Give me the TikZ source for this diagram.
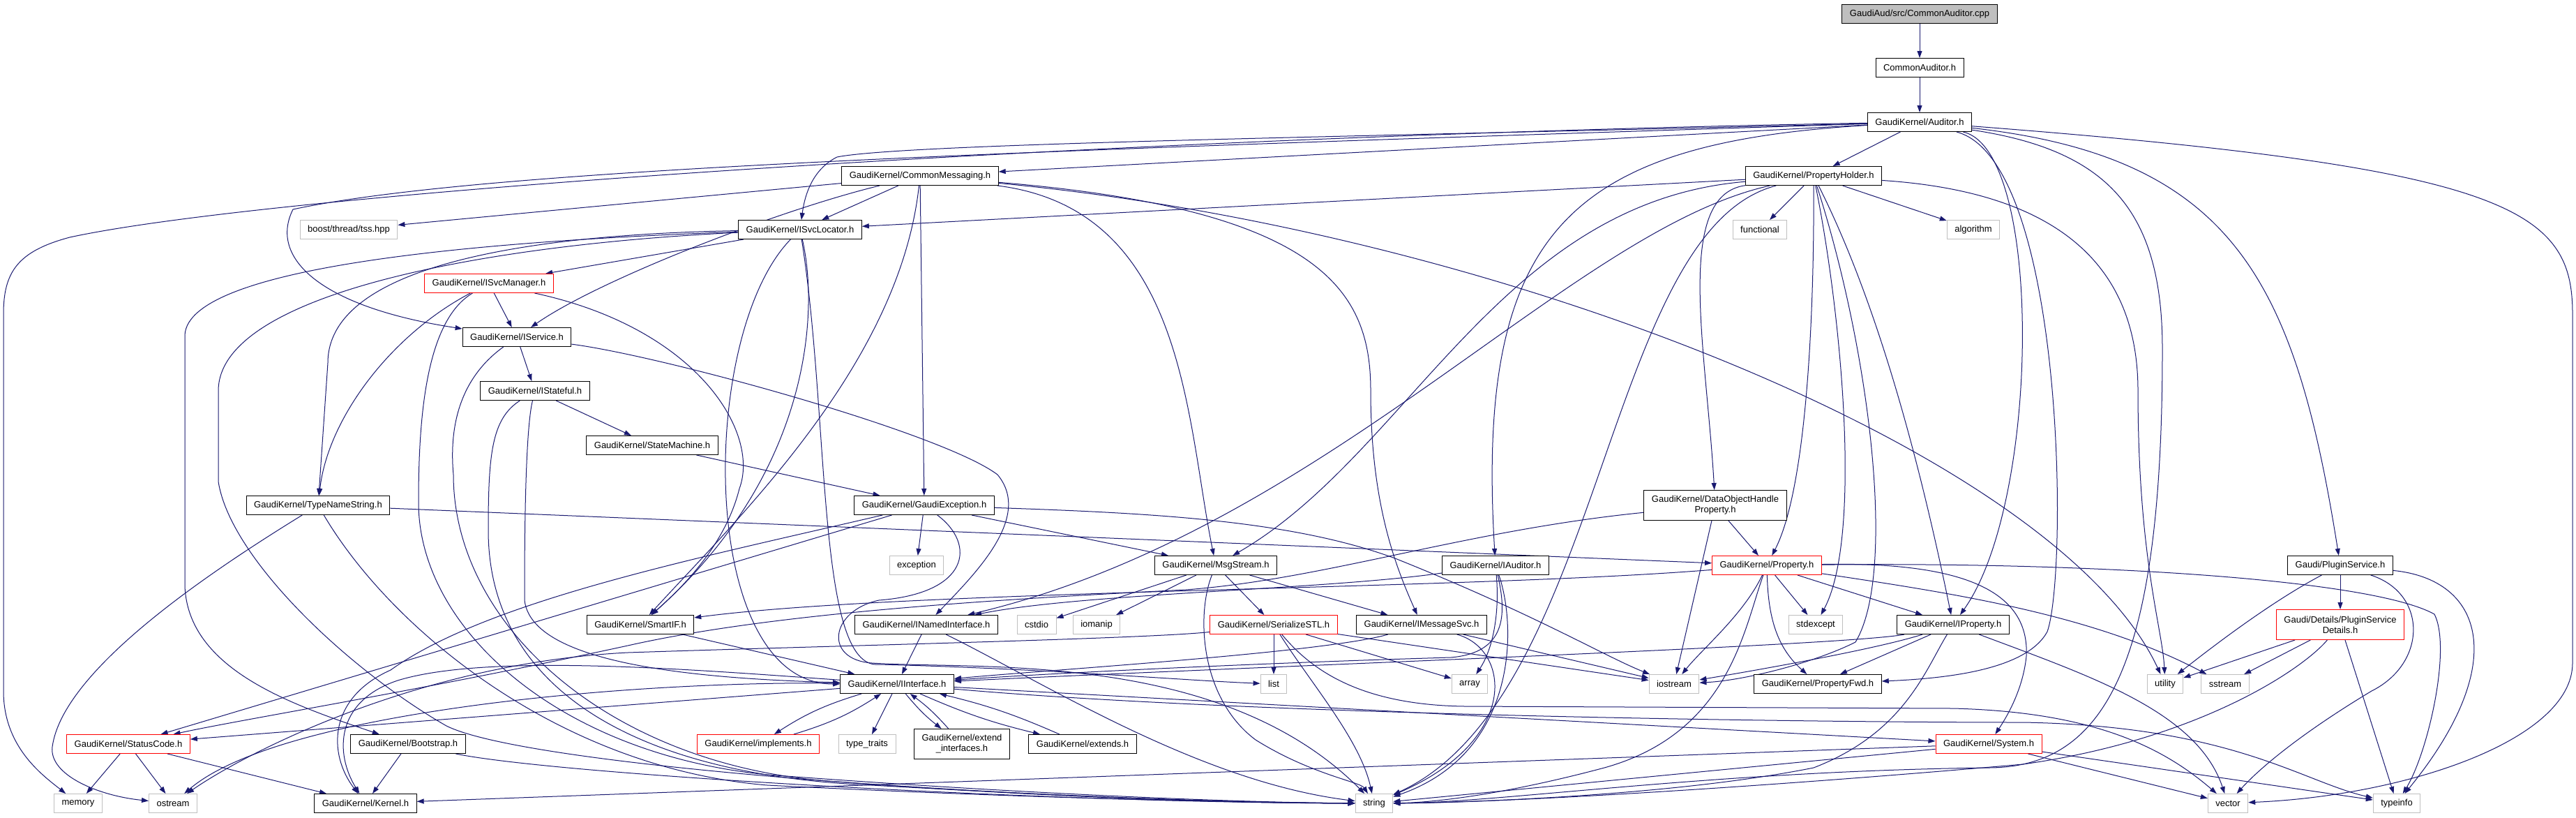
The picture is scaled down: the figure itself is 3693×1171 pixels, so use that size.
\documentclass[tikz,border=0pt]{standalone}
\usepackage{fontspec}
\newfontfamily\hfont{Liberation Sans}
\usetikzlibrary{arrows.meta}
\definecolor{DoxEdge}{HTML}{191970}
\definecolor{DoxGray}{HTML}{BFBFBF}
\definecolor{DoxRed}{HTML}{FF0000}
\pgfdeclarelayer{edges}
\pgfsetlayers{edges,main}

\begin{document}
\begin{tikzpicture}[x=1pt,y=1pt,
    hdr/.style={draw=black,fill=white,line width=1pt,
      font={\hfont\fontsize{13}{15}\selectfont},
      inner xsep=11pt,inner ysep=0pt,minimum height=27pt},
    redhdr/.style={hdr,draw=DoxRed},
    syshdr/.style={hdr,draw=DoxGray},
    roothdr/.style={hdr,fill=DoxGray},
    twoline/.style={align=center,minimum height=43pt},
    inc/.style={draw=DoxEdge,line width=1pt,-{Triangle[length=10pt,width=7pt]}}
  ]
  \useasboundingbox (0,0) rectangle (3693,-1171);

  % rows of the include graph
  \node[roothdr] (cpp) at (2752,-20) {GaudiAud/src/CommonAuditor.cpp};
  \node[hdr] (cah) at (2752,-97) {CommonAuditor.h};
  \node[hdr] (aud) at (2752,-175) {GaudiKernel/Auditor.h};
  \node[hdr] (cmsg) at (1319,-252) {GaudiKernel/CommonMessaging.h};
  \node[hdr] (pholder) at (2600,-252) {GaudiKernel/PropertyHolder.h};
  \node[syshdr] (tss) at (500,-329) {boost/thread/tss.hpp};
  \node[hdr] (svcloc) at (1147,-329) {GaudiKernel/ISvcLocator.h};
  \node[syshdr] (functional) at (2523,-329) {functional};
  \node[syshdr] (algorithm) at (2829,-329) {algorithm};
  \node[redhdr] (svcmgr) at (701,-406) {GaudiKernel/ISvcManager.h};
  \node[hdr] (service) at (741,-483) {GaudiKernel/IService.h};
  \node[hdr] (stateful) at (767,-560) {GaudiKernel/IStateful.h};
  \node[hdr] (statemach) at (935,-638) {GaudiKernel/StateMachine.h};
  \node[hdr] (typename) at (456,-724) {GaudiKernel/TypeNameString.h};
  \node[hdr] (gexc) at (1325,-724) {GaudiKernel/GaudiException.h};
  \node[hdr,twoline] (dohp) at (2459,-724) {GaudiKernel/DataObjectHandle\\Property.h};
  \node[syshdr] (exception) at (1314,-810) {exception};
  \node[hdr] (msgstream) at (1743,-810) {GaudiKernel/MsgStream.h};
  \node[hdr] (iaud) at (2144,-810) {GaudiKernel/IAuditor.h};
  \node[redhdr] (property) at (2533,-810) {GaudiKernel/Property.h};
  \node[hdr] (plugsvc) at (3355,-810) {Gaudi/PluginService.h};
  \node[hdr] (smartif) at (918,-895) {GaudiKernel/SmartIF.h};
  \node[hdr] (named) at (1328,-895) {GaudiKernel/INamedInterface.h};
  \node[syshdr] (cstdio) at (1486,-895) {cstdio};
  \node[syshdr] (iomanip) at (1572,-895) {iomanip};
  \node[redhdr] (serial) at (1826,-895) {GaudiKernel/SerializeSTL.h};
  \node[hdr] (imsgsvc) at (2038,-895) {GaudiKernel/IMessageSvc.h};
  \node[syshdr] (stdexcept) at (2603,-895) {stdexcept};
  \node[hdr] (iprop) at (2800,-895) {GaudiKernel/IProperty.h};
  \node[redhdr,twoline] (plugdet) at (3355,-895) {Gaudi/Details/PluginService\\Details.h};
  \node[hdr] (iface) at (1286,-980) {GaudiKernel/IInterface.h};
  \node[syshdr] (list) at (1826,-980) {list};
  \node[syshdr] (array) at (2107,-980) {array};
  \node[syshdr] (iostream) at (2400,-980) {iostream};
  \node[hdr] (propfwd) at (2606,-980) {GaudiKernel/PropertyFwd.h};
  \node[syshdr] (utility) at (3104,-980) {utility};
  \node[syshdr] (sstream) at (3190,-980) {sstream};
  \node[redhdr] (status) at (184,-1066) {GaudiKernel/StatusCode.h};
  \node[hdr] (bootstrap) at (585,-1066) {GaudiKernel/Bootstrap.h};
  \node[redhdr] (implements) at (1087,-1066) {GaudiKernel/implements.h};
  \node[syshdr] (typetraits) at (1243,-1066) {type\_traits};
  \node[hdr,twoline] (extif) at (1379,-1066) {GaudiKernel/extend\\\_interfaces.h};
  \node[hdr] (extends) at (1552,-1066) {GaudiKernel/extends.h};
  \node[redhdr] (system) at (2851,-1066) {GaudiKernel/System.h};
  \node[syshdr] (memory) at (112,-1151) {memory};
  \node[syshdr] (ostream) at (248,-1151) {ostream};
  \node[hdr] (kernel) at (524,-1151) {GaudiKernel/Kernel.h};
  \node[syshdr] (string) at (1970,-1151) {string};
  \node[syshdr] (vector) at (3194,-1151) {vector};
  \node[syshdr] (typeinfo) at (3436,-1151) {typeinfo};

  \begin{pgfonlayer}{edges}
  \fill[white] (0,0) rectangle (3693,-1171);
  % top
  \draw[inc] (cpp) -- (cah);
  \draw[inc] (cah) -- (aud);
  % Auditor.h
  \draw[inc] (aud) -- (cmsg);
  \draw[inc] (aud) -- (pholder);
  \draw[inc] (aud) .. controls (2000,-195) and (1300,-205) .. (1200,-225) .. controls (1170,-240) and (1155,-270) .. (svcloc);
  \draw[inc] (aud) .. controls (1500,-215) and (700,-240) .. (420,-300) .. controls (385,-370) and (460,-440) .. (service);
  \draw[inc] (aud) .. controls (1600,-195) and (400,-275) .. (100,-340) .. controls (25,-360) and (5,-390) .. (5,-450) -- (5,-990) .. controls (5,-1070) and (60,-1110) .. (memory);
  \draw[inc] (aud) .. controls (2250,-205) and (2115,-330) .. (iaud);
  \draw[inc] (aud) .. controls (2930,-215) and (2925,-720) .. (iprop);
  \draw[inc] (aud) .. controls (2960,-230) and (2965,-820) .. (2935,-905) .. controls (2905,-960) and (2790,-972) .. (propfwd);
  \draw[inc] (aud) .. controls (3020,-215) and (3100,-300) .. (3100,-500) .. controls (3100,-950) and (3020,-1100) .. (2850,-1100) .. controls (2450,-1105) and (2150,-1150) .. (string);
  \draw[inc] (aud) .. controls (3200,-225) and (3290,-400) .. (plugsvc);
  \draw[inc] (aud) .. controls (3600,-240) and (3688,-300) .. (3688,-450) -- (3688,-950) .. controls (3688,-1060) and (3450,-1140) .. (vector);
  % CommonMessaging.h
  \draw[inc] (cmsg) -- (tss);
  \draw[inc] (cmsg) -- (svcloc);
  \draw[inc] (cmsg) .. controls (1120,-300) and (860,-400) .. (service);
  \draw[inc] (cmsg) .. controls (1290,-520) and (1060,-740) .. (smartif);
  \draw[inc] (cmsg) -- (gexc);
  \draw[inc] (cmsg) .. controls (1700,-300) and (1700,-600) .. (msgstream);
  \draw[inc] (cmsg) .. controls (1900,-300) and (1965,-420) .. (1965,-560) .. controls (1965,-720) and (2000,-810) .. (imsgsvc);
  \draw[inc] (cmsg) .. controls (2150,-330) and (2950,-650) .. (utility);
  % PropertyHolder.h
  \draw[inc] (pholder) -- (svcloc);
  \draw[inc] (pholder) -- (functional);
  \draw[inc] (pholder) -- (algorithm);
  \draw[inc] (pholder) .. controls (2400,-280) and (2446,-500) .. (dohp);
  \draw[inc] (pholder) .. controls (2601,-450) and (2590,-700) .. (property);
  \draw[inc] (pholder) .. controls (2640,-450) and (2670,-770) .. (stdexcept);
  \draw[inc] (pholder) .. controls (2700,-450) and (2760,-700) .. (iprop);
  \draw[inc] (pholder) .. controls (2680,-500) and (2720,-820) .. (2660,-920) .. controls (2600,-950) and (2500,-975) .. (iostream);
  \draw[inc] (pholder) .. controls (2150,-290) and (2020,-650) .. (msgstream);
  \draw[inc] (pholder) .. controls (2250,-330) and (1900,-760) .. (named);
  \draw[inc] (pholder) .. controls (2300,-330) and (2300,-1000) .. (string);
  \draw[inc] (pholder) .. controls (2950,-275) and (3065,-380) .. (3065,-560) .. controls (3065,-800) and (3100,-900) .. (utility);
  % ISvcLocator.h, ISvcManager.h
  \draw[inc] (svcloc) -- (svcmgr);
  \draw[inc] (svcloc) .. controls (800,-335) and (470,-370) .. (470,-520) -- (typename);
  \draw[inc] (svcloc) .. controls (1175,-450) and (1160,-680) .. (smartif);
  \draw[inc] (svcloc) .. controls (1190,-600) and (1170,-960) .. (1260,-952) .. controls (1500,-958) and (1700,-975) .. (list);
  \draw[inc] (svcloc) .. controls (1000,-480) and (1000,-980) .. (iface);
  \draw[inc] (svcloc) .. controls (700,-345) and (270,-380) .. (265,-480) -- (265,-840) .. controls (270,-960) and (420,-1010) .. (bootstrap);
  \draw[inc] (svcloc) .. controls (700,-350) and (313,-420) .. (313,-560) -- (313,-690) .. controls (330,-800) and (500,-960) .. (640,-1040) .. controls (760,-1100) and (1500,-1150) .. (string);
  \draw[inc] (svcmgr) -- (service);
  \draw[inc] (svcmgr) .. controls (560,-480) and (470,-600) .. (typename);
  \draw[inc] (svcmgr) .. controls (1000,-470) and (1090,-620) .. (1060,-700) .. controls (1040,-780) and (980,-840) .. (smartif);
  \draw[inc] (svcmgr) .. controls (610,-460) and (600,-600) .. (600,-720) .. controls (600,-900) and (800,-1080) .. (1100,-1110) .. controls (1500,-1140) and (1800,-1150) .. (string);
  % IService.h, IStateful.h, StateMachine.h
  \draw[inc] (service) -- (stateful);
  \draw[inc] (service) .. controls (950,-510) and (1350,-620) .. (1430,-680) .. controls (1480,-740) and (1400,-820) .. (named);
  \draw[inc] (service) .. controls (690,-520) and (640,-570) .. (650,-680) .. controls (650,-900) and (880,-1100) .. (1200,-1120) .. controls (1550,-1145) and (1800,-1150) .. (string);
  \draw[inc] (stateful) -- (statemach);
  \draw[inc] (stateful) .. controls (752,-620) and (752,-800) .. (752,-860) .. controls (760,-930) and (900,-970) .. (iface);
  \draw[inc] (stateful) .. controls (705,-600) and (700,-650) .. (700,-760) .. controls (700,-980) and (900,-1110) .. (1250,-1125) .. controls (1600,-1145) and (1800,-1150) .. (string);
  \draw[inc] (statemach) -- (gexc);
  % TypeNameString.h
  \draw[inc] (typename) -- (property);
  \draw[inc] (typename) .. controls (300,-820) and (90,-960) .. (75,-1070) .. controls (70,-1110) and (140,-1140) .. (ostream);
  \draw[inc] (typename) .. controls (560,-900) and (800,-1100) .. (1100,-1125) .. controls (1500,-1145) and (1800,-1150) .. (string);
  % GaudiException.h
  \draw[inc] (gexc) -- (exception);
  \draw[inc] (gexc) -- (msgstream);
  \draw[inc] (gexc) -- (status);
  \draw[inc] (gexc) .. controls (1000,-800) and (700,-860) .. (560,-960) .. controls (470,-1000) and (470,-1080) .. (kernel);
  \draw[inc] (gexc) .. controls (1400,-780) and (1390,-850) .. (1260,-860) .. controls (1190,-875) and (1180,-945) .. (1250,-950) .. controls (1400,-960) and (1750,-930) .. (string);
  \draw[inc] (gexc) .. controls (1650,-735) and (1850,-745) .. (2000,-800) .. controls (2200,-880) and (2300,-940) .. (iostream);
  % DataObjectHandleProperty.h
  \draw[inc] (dohp) -- (property);
  \draw[inc] (dohp) -- (iostream);
  \draw[inc] (dohp) .. controls (2100,-760) and (1900,-830) .. (1700,-845) .. controls (1400,-860) and (1100,-880) .. (900,-925) .. controls (600,-990) and (350,-1030) .. (status);
  % MsgStream.h
  \draw[inc] (msgstream) -- (cstdio);
  \draw[inc] (msgstream) -- (iomanip);
  \draw[inc] (msgstream) -- (serial);
  \draw[inc] (msgstream) -- (imsgsvc);
  \draw[inc] (msgstream) .. controls (1715,-880) and (1720,-1000) .. (1800,-1060) .. controls (1880,-1110) and (1950,-1120) .. (string);
  % IAuditor.h
  \draw[inc] (iaud) .. controls (1900,-845) and (1550,-850) .. (named);
  \draw[inc] (iaud) .. controls (2160,-880) and (2160,-935) .. (2080,-942) .. controls (1800,-950) and (1500,-965) .. (iface);
  \draw[inc] (iaud) .. controls (2150,-880) and (2140,-930) .. (array);
  \draw[inc] (iaud) .. controls (2175,-900) and (2175,-1080) .. (string);
  % Property.h
  \draw[inc] (property) .. controls (2100,-845) and (1300,-845) .. (smartif);
  \draw[inc] (property) -- (iprop);
  \draw[inc] (property) .. controls (2535,-890) and (2550,-930) .. (propfwd);
  \draw[inc] (property) -- (stdexcept);
  \draw[inc] (property) .. controls (2500,-880) and (2440,-930) .. (iostream);
  \draw[inc] (property) .. controls (2500,-900) and (2480,-1050) .. (2300,-1100) .. controls (2150,-1140) and (2050,-1150) .. (string);
  \draw[inc] (property) .. controls (3000,-805) and (3400,-830) .. (3490,-880) .. controls (3515,-930) and (3480,-1080) .. (typeinfo);
  \draw[inc] (property) .. controls (2800,-805) and (2910,-840) .. (2905,-940) .. controls (2900,-990) and (2875,-1030) .. (system);
  \draw[inc] (property) .. controls (2800,-850) and (3000,-880) .. (sstream);
  % IProperty.h
  \draw[inc] (iprop) .. controls (2650,-925) and (1800,-955) .. (iface);
  \draw[inc] (iprop) -- (propfwd);
  \draw[inc] (iprop) .. controls (2690,-930) and (2520,-960) .. (iostream);
  \draw[inc] (iprop) .. controls (2760,-960) and (2730,-1050) .. (2600,-1100) .. controls (2400,-1140) and (2100,-1150) .. (string);
  \draw[inc] (iprop) .. controls (3000,-970) and (3150,-1020) .. (vector);
  % PluginService
  \draw[inc] (plugsvc) -- (plugdet);
  \draw[inc] (plugsvc) .. controls (3260,-860) and (3180,-920) .. (utility);
  \draw[inc] (plugsvc) .. controls (3480,-850) and (3480,-950) .. (3400,-990) .. controls (3300,-1050) and (3240,-1100) .. (vector);
  \draw[inc] (plugsvc) .. controls (3560,-830) and (3600,-950) .. (typeinfo);
  \draw[inc] (plugdet) -- (utility);
  \draw[inc] (plugdet) -- (sstream);
  \draw[inc] (plugdet) -- (typeinfo);
  \draw[inc] (plugdet) .. controls (3300,-960) and (3150,-1060) .. (2900,-1095) .. controls (2500,-1130) and (2150,-1150) .. (string);
  % SmartIF.h, INamedInterface.h
  \draw[inc] (smartif) -- (iface);
  \draw[inc] (named) -- (iface);
  \draw[inc] (named) .. controls (1500,-980) and (1720,-1120) .. (string);
  % SerializeSTL.h
  \draw[inc] (serial) -- (list);
  \draw[inc] (serial) -- (array);
  \draw[inc] (serial) -- (iostream);
  \draw[inc] (serial) .. controls (1880,-980) and (1950,-1060) .. (string);
  \draw[inc] (serial) .. controls (1650,-915) and (1200,-925) .. (900,-935) .. controls (600,-950) and (350,-1080) .. (ostream);
  \draw[inc] (serial) .. controls (1880,-960) and (1950,-1010) .. (2100,-1012) -- (2800,-1015) .. controls (3000,-1020) and (3100,-1070) .. (vector);
  % IMessageSvc.h
  \draw[inc] (imsgsvc) .. controls (1900,-935) and (1500,-960) .. (iface);
  \draw[inc] (imsgsvc) -- (iostream);
  \draw[inc] (imsgsvc) .. controls (2165,-930) and (2180,-1060) .. (string);
  % Bootstrap.h, StatusCode.h
  \draw[inc] (bootstrap) -- (kernel);
  \draw[inc] (bootstrap) .. controls (800,-1110) and (1500,-1150) .. (string);
  \draw[inc] (status) -- (memory);
  \draw[inc] (status) -- (ostream);
  \draw[inc] (status) -- (kernel);
  % IInterface.h
  \draw[inc] (iface) -- (status);
  \draw[inc] (iface) to[bend right=8] (implements);
  \draw[inc] (implements) to[bend right=8] (iface);
  \draw[inc] (iface) -- (typetraits);
  \draw[inc] (iface) to[bend right=6] (extif);
  \draw[inc] (extif) to[bend right=6] (iface);
  \draw[inc] (iface) to[bend right=5] (extends);
  \draw[inc] (extends) to[bend right=5] (iface);
  \draw[inc] (iface) -- (system);
  \draw[inc] (iface) .. controls (1800,-1025) and (2600,-1035) .. (2900,-1035) .. controls (3200,-1040) and (3300,-1120) .. (typeinfo);
  \draw[inc] (iface) .. controls (900,-975) and (400,-1020) .. (ostream);
  \draw[inc] (iface) .. controls (1000,-960) and (700,-935) .. (570,-975) .. controls (480,-1005) and (480,-1080) .. (kernel);
  % System.h
  \draw[inc] (system) -- (kernel);
  \draw[inc] (system) -- (string);
  \draw[inc] (system) -- (vector);
  \draw[inc] (system) -- (typeinfo);
  \end{pgfonlayer}
\end{tikzpicture}
\end{document}
